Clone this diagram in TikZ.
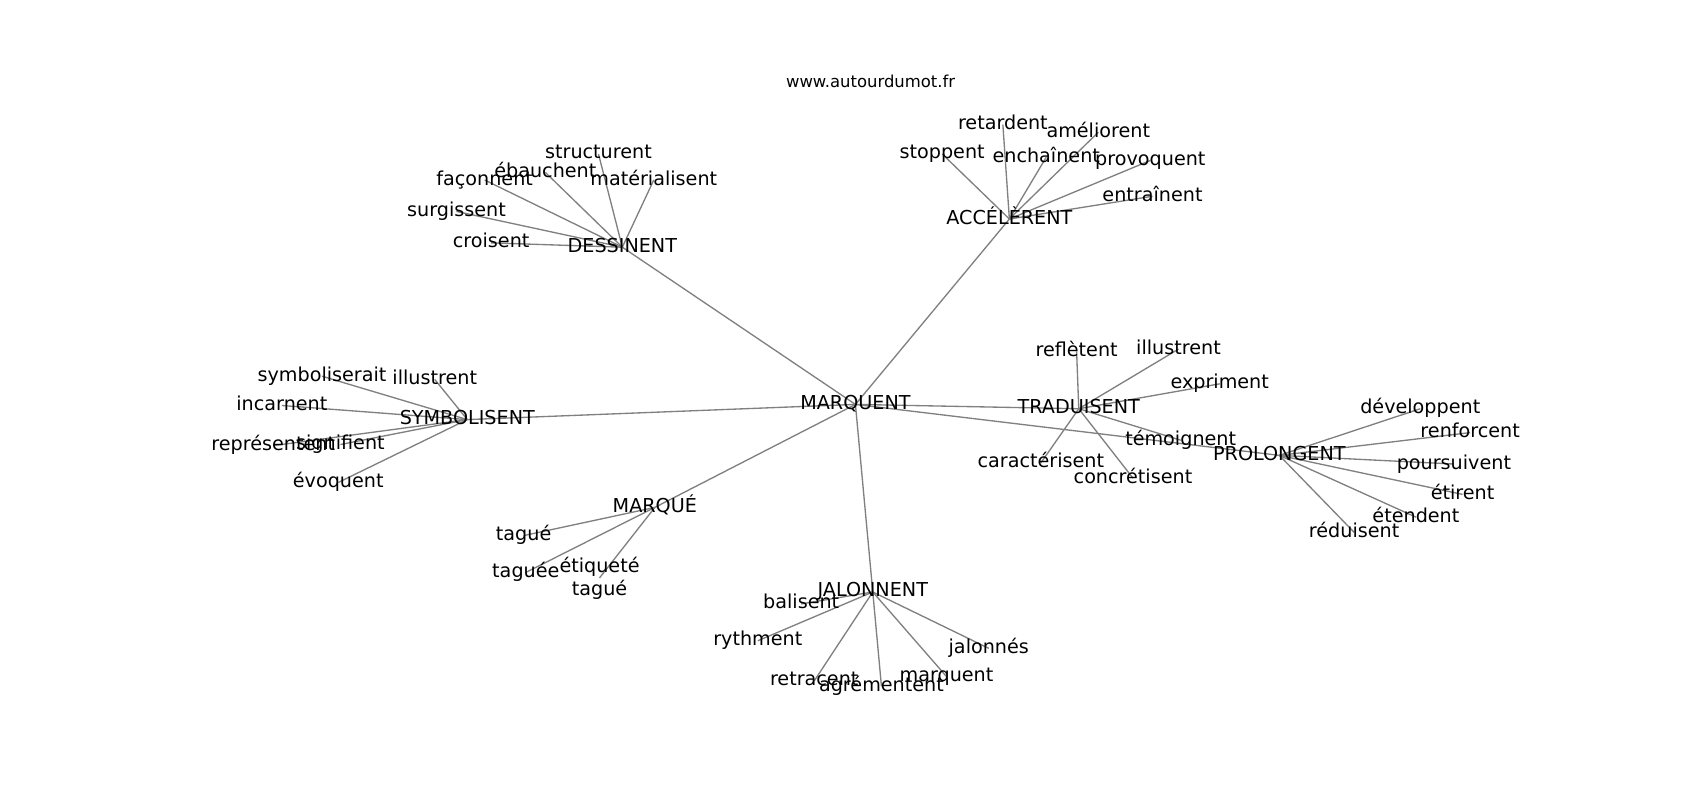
\documentclass[tikz,border=0pt]{standalone}
\usepackage{fontspec}
\setmainfont{DejaVu Sans}
\usetikzlibrary{backgrounds}

\begin{document}
\begin{tikzpicture}[x=0.02cm, y=-0.02cm,
    word/.style={inner sep=0pt, font=\fontsize{10.07pt}{12.1pt}\selectfont, text height=7.65pt, text depth=2.38pt},
    pair/.style={inner sep=0pt, align=center, font=\fontsize{10.07pt}{12.1pt}\selectfont},
    title/.style={inner sep=0pt, font=\fontsize{8.63pt}{10.4pt}\selectfont, text height=6.56pt, text depth=2.04pt},
    link/.style={draw=gray, line width=0.7pt}]

                \useasboundingbox (0,0) rectangle (1568,738);

                \node[title] (t) at (803,77) {www.autourdumot.fr};

                \node[word] (0) at (789,373) {MARQUENT};
                \node[word] (1) at (574,228) {DESSINENT};
                \node[word] (2) at (931,202) {ACCÉLÈRENT};
                \node[word] (3) at (431,387) {SYMBOLISENT};
                \node[word] (4) at (995,377) {TRADUISENT};
                \node[word] (5) at (1180,420) {PROLONGENT};
                \node[word] (6) at (604,468) {MARQUÉ};
                \node[word] (7) at (805,546) {JALONNENT};

                \node[word] (1a) at (552,142) {structurent};
                \node[word] (1b) at (503,159) {ébauchent};
                \node[word] (1c) at (603,166) {matérialisent};
                \node[word] (1d) at (447,166) {façonnent};
                \node[word] (1e) at (421,195) {surgissent};
                \node[word] (1f) at (453,224) {croisent};

                \node[word] (2a) at (925,115) {retardent};
                \node[word] (2b) at (1013,122) {améliorent};
                \node[word] (2c) at (869,142) {stoppent};
                \node[word] (2d) at (965,145) {enchaînent};
                \node[word] (2e) at (1061,148) {provoquent};
                \node[word] (2f) at (1063,181) {entraînent};

                \node[word] (3a) at (297,347) {symboliserait};
                \node[word] (3b) at (401,350) {illustrent};
                \node[word] (3c) at (260,374) {incarnent};
                \node[word] (3d) at (252,411) {représentent};
                \node[word] (3e) at (314,410) {signifient};
                \node[word] (3f) at (312,445) {évoquent};

                \node[word] (4a) at (993,324) {reflètent};
                \node[word] (4b) at (1087,322) {illustrent};
                \node[word] (4c) at (1125,354) {expriment};
                \node[word] (4d) at (1089,406) {témoignent};
                \node[word] (4e) at (960,427) {caractérisent};
                \node[word] (4f) at (1045,441) {concrétisent};

                \node[word] (5a) at (1310,377) {développent};
                \node[word] (5b) at (1356,399) {renforcent};
                \node[word] (5c) at (1341,428) {poursuivent};
                \node[word] (5d) at (1349,456) {étirent};
                \node[word] (5e) at (1306,477) {étendent};
                \node[word] (5f) at (1249,491) {réduisent};

                \node[word] (6a) at (483,494) {tagué};
                \node[word] (6b) at (485,528) {taguée};
                \node[pair] (6c) at (553,533) {étiqueté\\tagué};

                \node[word] (7a) at (739,557) {balisent};
                \node[word] (7b) at (699,591) {rythment};
                \node[word] (7c) at (751,628) {retracent};
                \node[word] (7d) at (813,633) {agrémentent};
                \node[word] (7e) at (873,624) {marquent};
                \node[word] (7f) at (912,598) {jalonnés};

                \begin{pgfonlayer}{background}
                \path[link]
                (0.center) edge (1.center)
                           edge (2.center)
                           edge (3.center)
                           edge (4.center)
                           edge (5.center)
                           edge (6.center)
                           edge (7.center)
                (1.center) edge (1a.center)
                           edge (1b.center)
                           edge (1c.center)
                           edge (1d.center)
                           edge (1e.center)
                           edge (1f.center)
                (2.center) edge (2a.center)
                           edge (2b.center)
                           edge (2c.center)
                           edge (2d.center)
                           edge (2e.center)
                           edge (2f.center)
                (3.center) edge (3a.center)
                           edge (3b.center)
                           edge (3c.center)
                           edge (3d.center)
                           edge (3e.center)
                           edge (3f.center)
                (4.center) edge (4a.center)
                           edge (4b.center)
                           edge (4c.center)
                           edge (4d.center)
                           edge (4e.center)
                           edge (4f.center)
                (5.center) edge (5a.center)
                           edge (5b.center)
                           edge (5c.center)
                           edge (5d.center)
                           edge (5e.center)
                           edge (5f.center)
                (6.center) edge (6a.center)
                           edge (6b.center)
                           edge (6c.center)
                (7.center) edge (7a.center)
                           edge (7b.center)
                           edge (7c.center)
                           edge (7d.center)
                           edge (7e.center)
                           edge (7f.center)
                ;
                \end{pgfonlayer}
            \end{tikzpicture}
\end{document}
